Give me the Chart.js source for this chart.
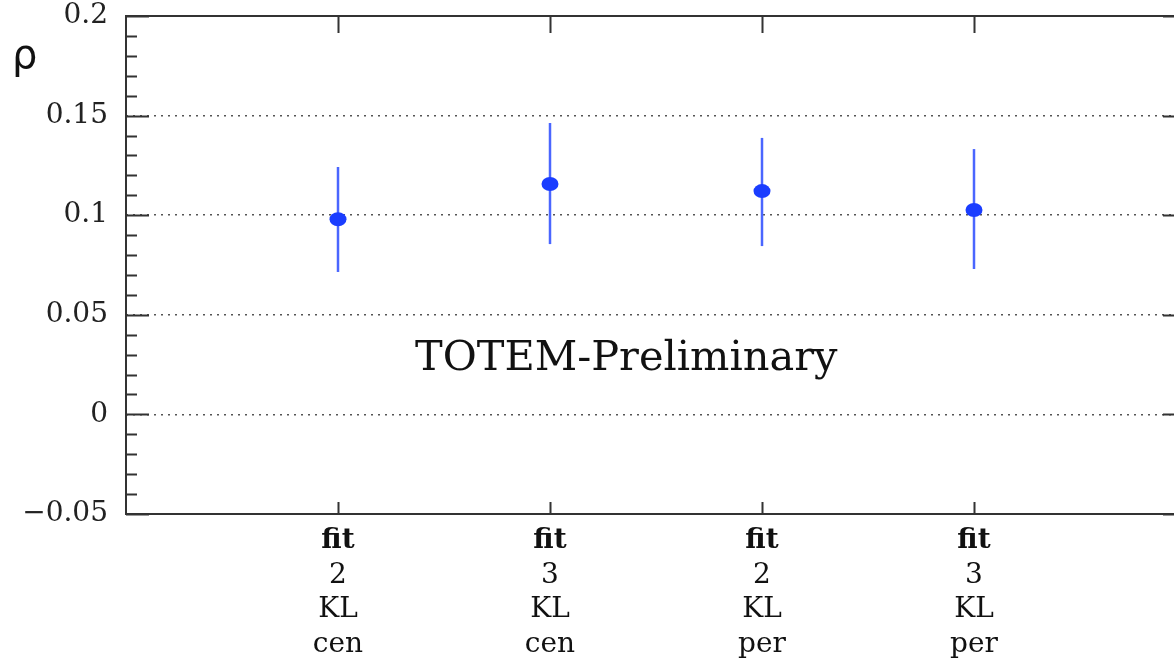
<!DOCTYPE html>
<html>
<head>
<meta charset="utf-8">
<script src="https://cdn.jsdelivr.net/npm/chart.js@4/dist/chart.umd.min.js"></script>
<style>
  html, body { margin: 0; padding: 0; background: #fff; overflow: hidden; }
  #wrap { width: 1186px; height: 662px; }
</style>
</head>
<body>
<div id="wrap"><canvas id="rhoChart"></canvas></div>
<script>
// data
const fitLabels = [
  ["fit", "2", "KL", "cen"],
  ["fit", "3", "KL", "cen"],
  ["fit", "2", "KL", "per"],
  ["fit", "3", "KL", "per"],
];
const xPositions = [1, 2, 3, 4];
const rhoValues = [0.098, 0.1157, 0.1121, 0.1026];
const rhoUpper = [0.1242, 0.1463, 0.1388, 0.1332];
const rhoLower = [0.0715, 0.0855, 0.0845, 0.0730];
const majorTicks = [-0.05, 0, 0.05, 0.1, 0.15, 0.2];

const frameColor = "#333";
const serif = "'DejaVu Serif', 'Liberation Serif', serif";

// frame, inward tick marks, error bars, x labels, annotations
const decorations = {
  id: "decorations",
  beforeDatasetsDraw(chart) {
    const { ctx, chartArea: a, scales } = chart;
    const y = scales.y, x = scales.x;
    ctx.save();
    ctx.strokeStyle = frameColor;
    ctx.lineWidth = 2;
    ctx.strokeRect(a.left, a.top, a.right - a.left, a.bottom - a.top);

    // y ticks (major every 0.05, minor every 0.01) on both sides
    for (let i = -5; i <= 20; i++) {
      const v = i / 100;
      const py = Math.round(y.getPixelForValue(v)) + 0.5;
      const len = i % 5 === 0 ? 23 : 11;
      ctx.beginPath();
      ctx.moveTo(a.left, py); ctx.lineTo(a.left + len, py);
      ctx.moveTo(a.right, py); ctx.lineTo(a.right - len, py);
      ctx.stroke();
    }
    // x ticks at each category
    xPositions.forEach(p => {
      const px = Math.round(x.getPixelForValue(p)) + 0.5;
      ctx.beginPath();
      ctx.moveTo(px, a.top); ctx.lineTo(px, a.top + 17);
      ctx.moveTo(px, a.bottom); ctx.lineTo(px, a.bottom - 12);
      ctx.stroke();
    });

    // error bars
    ctx.strokeStyle = "#4a66ff";
    ctx.lineWidth = 2.5;
    xPositions.forEach((p, i) => {
      const px = x.getPixelForValue(p);
      ctx.beginPath();
      ctx.moveTo(px, y.getPixelForValue(rhoUpper[i]));
      ctx.lineTo(px, y.getPixelForValue(rhoLower[i]));
      ctx.stroke();
    });

    // multi-line category labels, first line bold
    ctx.fillStyle = "#111";
    ctx.textAlign = "center";
    ctx.textBaseline = "alphabetic";
    xPositions.forEach((p, i) => {
      const px = x.getPixelForValue(p);
      fitLabels[i].forEach((line, j) => {
        ctx.font = (j === 0 ? "bold " : "") + "28px " + serif;
        ctx.fillText(line, px, a.bottom + 34 + j * 34.7);
      });
    });

    // axis symbol and watermark text
    ctx.textAlign = "left";
    ctx.font = "40px 'DejaVu Sans', sans-serif";
    ctx.fillText("ρ", 12, 68);
    ctx.font = "41.5px " + serif;
    ctx.fillText("TOTEM-Preliminary", 415, 370);
    ctx.restore();
  },
};

new Chart(document.getElementById("rhoChart"), {
  type: "scatter",
  data: {
    datasets: [{
      data: xPositions.map((p, i) => ({ x: p, y: rhoValues[i] })),
      backgroundColor: "#1a3dff",
      borderColor: "#1a3dff",
      pointRadius: 0,
    }],
  },
  options: {
    responsive: true,
    maintainAspectRatio: false,
    animation: false,
    layout: { padding: { top: 16, right: 0, left: 0, bottom: 0 } },
    plugins: { legend: { display: false }, tooltip: { enabled: false } },
    scales: {
      x: {
        type: "linear",
        min: 0,
        max: 5,
        ticks: { display: false },
        grid: { display: false },
        border: { display: false },
        afterFit(scale) {
          scale.height = 662 - 514;
          scale.paddingLeft = 0; scale.paddingRight = 0;
        },
      },
      y: {
        min: -0.05,
        max: 0.2,
        afterBuildTicks(scale) { scale.ticks = majorTicks.map(v => ({ value: v })); },
        ticks: {
          color: "#222",
          font: { family: serif, size: 28, lineHeight: 1.0 },
          padding: 18,
          callback: v => (v < 0 ? "\u2212" + Math.abs(v) : String(Math.round(v * 100) / 100)),
        },
        grid: {
          drawTicks: false,
          color: ctx => (ctx.tick && ctx.tick.value > -0.04 && ctx.tick.value < 0.19 ? "#555" : "rgba(0,0,0,0)"),
          lineWidth: 1.5,
        },
        border: { display: false, dash: [2, 5] },
        afterFit(scale) {
          scale.width = 126;
          scale.paddingTop = 0; scale.paddingBottom = 0;
        },
      },
    },
  },
  plugins: [decorations, {
    id: "markers",
    afterDatasetsDraw(chart) {
      const { ctx, scales } = chart;
      ctx.save();
      ctx.fillStyle = "#1a3dff";
      xPositions.forEach((p, i) => {
        ctx.beginPath();
        ctx.ellipse(scales.x.getPixelForValue(p), scales.y.getPixelForValue(rhoValues[i]), 8.5, 7, 0, 0, Math.PI * 2);
        ctx.fill();
      });
      ctx.restore();
    },
  }],
});
</script>
</body>
</html>
